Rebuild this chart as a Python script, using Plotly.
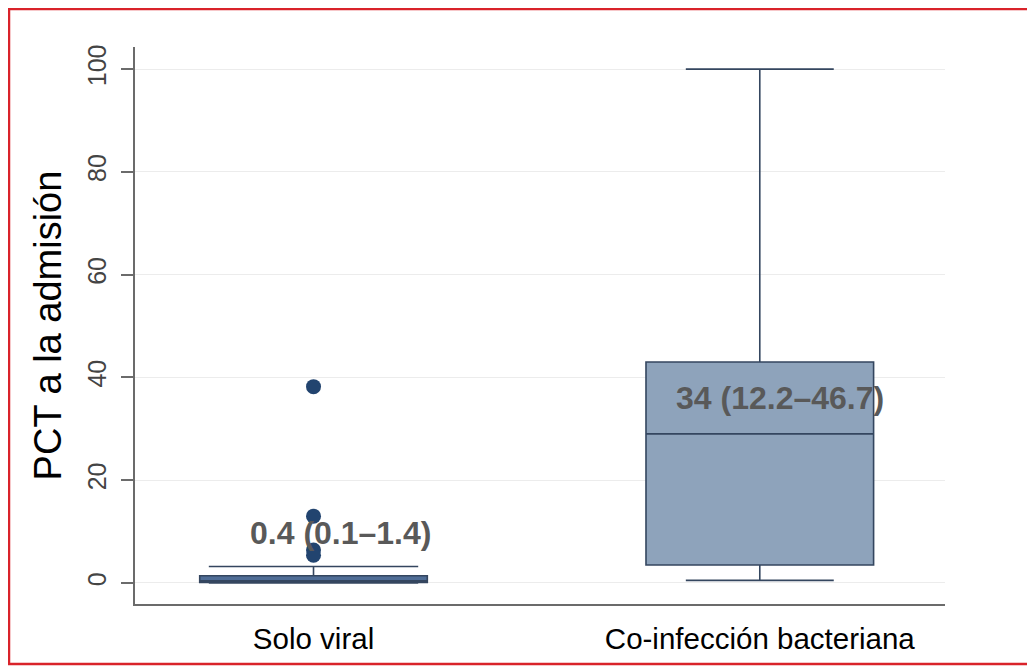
import plotly.graph_objects as go

categories = ["Solo viral", "Co-infección bacteriana"]
q1 = [0.1, 3.5]
median = [0.4, 29.0]
q3 = [1.4, 43.0]
lowerfence = [0.0, 0.5]
upperfence = [3.2, 100.0]
outliers_solo = [38.2, 13.0, 6.4, 5.4]
labels = ["0.4 (0.1–1.4)", "34 (12.2–46.7)"]
label_x = [0.06, 1.046]
label_y = [9.7, 36.0]
y_ticks = [0, 20, 40, 60, 80, 100]

# page has an 8px body margin; offset so the plot area lands where the reference has it
OFF = 8
PW, PH = 810, 557
ML, MT = 135 - OFF, 47 - OFF
W, H = 1035 - OFF, 667 - OFF
MR = W - ML - PW
MB = H - MT - PH

fills = ["#4f6d96", "#8ea3bb"]
whisker_w = [0.92, 0.65]

fig = go.Figure()
for i, c in enumerate(categories):
    fig.add_trace(go.Box(
        x=[c], q1=[q1[i]], median=[median[i]], q3=[q3[i]],
        lowerfence=[lowerfence[i]], upperfence=[upperfence[i]],
        fillcolor=fills[i], line=dict(color="#34465f", width=1.6),
        width=0.51, whiskerwidth=whisker_w[i], boxpoints=False,
        showlegend=False, hoverinfo="skip",
    ))

fig.add_trace(go.Scatter(
    x=[categories[0]] * len(outliers_solo), y=outliers_solo, mode="markers",
    marker=dict(color="#22446f", size=15), showlegend=False,
))

for t, xx, yy in zip(labels, label_x, label_y):
    fig.add_annotation(x=xx, y=yy, xref="x", yref="y", text="<b>%s</b>" % t,
                       showarrow=False, font=dict(size=32, color="#595959",
                       family="Arial, Liberation Sans"))

def px_x(p):
    return (p - ML) / PW

def px_y(p):
    return 1 - (p - MT) / PH

fig.add_shape(type="rect", xref="paper", yref="paper",
              x0=px_x(1), x1=px_x(1031 - OFF), y0=px_y(1), y1=px_y(664 - OFF),
              line=dict(color="#d9232a", width=2.5), fillcolor="rgba(0,0,0,0)",
              layer="above")

fig.update_layout(
    width=W, height=H,
    margin=dict(l=ML, r=MR, t=MT, b=MB, autoexpand=False),
    paper_bgcolor="white", plot_bgcolor="white",
    font=dict(family="Arial, Liberation Sans", color="#000"),
    xaxis=dict(
        type="category", categoryorder="array", categoryarray=categories,
        range=[-0.40, 1.415], showline=True, linecolor="#6b6b6b", linewidth=2,
        ticks="", showgrid=False, tickfont=dict(size=29.5, color="#000"),
        ticklabelstandoff=8, automargin=False,
    ),
    yaxis=dict(
        range=[-4.1, 104.3], tickvals=y_ticks, ticktext=[str(v) for v in y_ticks],
        tickangle=-90, showline=True, linecolor="#6b6b6b", linewidth=2,
        ticks="outside", ticklen=12, tickcolor="#6b6b6b", tickwidth=1.5,
        showgrid=True, gridcolor="#ececec", gridwidth=1, zeroline=False,
        tickfont=dict(size=25, color="#444"), ticklabelstandoff=5,
        automargin=False,
        title=dict(text="PCT a la admisión", font=dict(size=38, color="#000"),
                   standoff=10),
    ),
)

fig.write_html("out.html")
